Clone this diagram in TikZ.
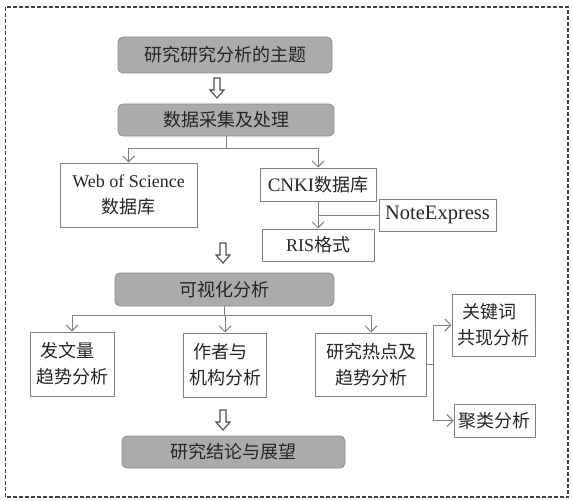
\documentclass[tikz,border=0pt]{standalone}
\usepackage{fontspec}
\setmainfont{Liberation Serif}
\newfontfamily\cjk{Noto Sans CJK SC}
\usetikzlibrary{arrows.meta,calc}
\tikzset{
  gbox/.style={draw=black!45, fill=black!33, rounded corners=5pt, line width=0.8pt, inner sep=0pt},
  wbox/.style={draw=black!50, fill=white, line width=1pt, inner sep=0pt},
  txt/.style={font=\fontsize{18}{26}\selectfont\cjk, text=black!85},
  conn/.style={draw=black!50, line width=1pt},
  arr/.style={conn, -{Straight Barb[length=6pt,width=12pt,line width=1pt]}},
  harrow/.pic={\draw[line width=1.1pt, draw=black!70, fill=white, line join=miter]
     (-3,0) -- (3,0) -- (3,12) -- (7,12) -- (0,20) -- (-7,12) -- (-3,12) -- cycle;}
}
\begin{document}
\begin{tikzpicture}[x=1pt,y=-1pt]
\useasboundingbox (0,0) rectangle (572,500);
\draw[draw=black!75, line width=1.1pt, dash pattern=on 4pt off 2pt] (5.5,7) rectangle (568,497);

\node[gbox, txt, minimum width=214pt, minimum height=36pt] (b1) at (225,55) {研究研究分析的主题};
\node[gbox, txt, minimum width=216pt, minimum height=32pt] (b2) at (226,120) {数据采集及处理};
\node[wbox, txt, minimum width=137pt, minimum height=64pt, align=center] (wos) at (128.5,195) {{\rmfamily Web of Science}\\数据库};
\node[wbox, txt, minimum width=116pt, minimum height=33pt] (cnki) at (318,184.5) {{\rmfamily\fontsize{19}{26}\selectfont CNKI}数据库};
\node[wbox, txt, minimum width=117pt, minimum height=32pt] (ne) at (437.5,215) {\rmfamily\fontsize{20.5}{26}\selectfont NoteExpress};
\node[wbox, txt, minimum width=112pt, minimum height=32pt] (ris) at (318,245) {{\rmfamily RIS}格式};
\node[gbox, txt, minimum width=219pt, minimum height=33pt] (b3) at (224.5,289.5) {可视化分析};
\node[wbox, txt, minimum width=84pt, minimum height=64pt, align=left] (fw) at (72,364) {\hspace*{4pt}发文量\\趋势分析};
\node[wbox, txt, minimum width=83pt, minimum height=64pt, align=left] (zz) at (225,365) {\hspace*{4pt}作者与\\机构分析};
\node[wbox, txt, minimum width=111pt, minimum height=63pt, align=center] (rd) at (371,364.5) {研究热点及\\趋势分析};
\node[wbox, txt, minimum width=83pt, minimum height=62pt, align=left] (gj) at (493.5,325) {\hspace*{5pt}关键词\\共现分析};
\node[wbox, txt, minimum width=81pt, minimum height=33pt] (jl) at (494.5,420.5) {聚类分析};
\node[gbox, txt, minimum width=223pt, minimum height=32pt] (b4) at (233.5,452) {研究结论与展望};

% hollow arrows
\pic at (217,78) {harrow};
\pic at (223,243) {harrow};
\pic at (223,410) {harrow};

% data collection branch
\coordinate (j1) at (226,148);
\draw[conn] (b2.south) -- (j1);
\draw[arr] (j1) -| (wos.north);
\draw[arr] (j1) -| (cnki.north);
\draw[arr] (cnki.south) -- (ris.north);
\draw[conn] (ne.west) -- (ne.west -| cnki.south);

% visual analysis branch
\coordinate (j2) at (224.5,315);
\draw[conn] (b3.south) -- (j2);
\draw[arr] (j2) -| (fw.north);
\draw[arr] (j2) -| (zz.north);
\draw[arr] (j2) -| (rd.north);

% hotspot branch
\coordinate (j3) at (433,364.5);
\draw[conn] (rd.east) -- (j3);
\draw[arr] (j3) |- (gj.west);
\draw[arr] (j3) |- (jl.west);
\end{tikzpicture}
\end{document}
